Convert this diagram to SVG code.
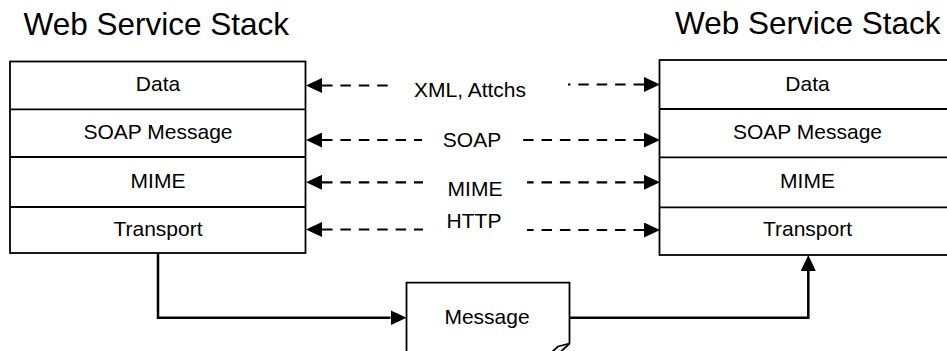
<svg xmlns="http://www.w3.org/2000/svg" width="947" height="351" viewBox="0 0 947 351">
  <style>
    .box { fill: #ffffff; stroke: #000000; stroke-width: 1.8; }
    .sep { stroke: #000000; stroke-width: 1.8; }
    .title { font-family: "Liberation Sans", Arial, sans-serif; font-size: 31.5px; fill: #000000; }
    .lbl { font-family: "Liberation Sans", Arial, sans-serif; font-size: 21px; fill: #000000; text-anchor: middle; }
    .dash { fill: none; stroke: #000000; stroke-width: 2.2; stroke-dasharray: 10.5 7.9; marker-start: url(#head); }
    .flow { fill: none; stroke: #000000; stroke-width: 2.5; marker-end: url(#head2); }
  </style>
  <defs>
    <!-- filled arrowhead; base sits on the line end, tip points away -->
    <marker id="head" markerUnits="userSpaceOnUse" viewBox="0 -7.5 16 15" refX="0" refY="0" markerWidth="16" markerHeight="15" orient="auto-start-reverse">
      <path d="M0,-7.5 L16,0 L0,7.5 Z" fill="#000000"/>
    </marker>
    <marker id="head2" markerUnits="userSpaceOnUse" viewBox="0 -7.5 16 15" refX="0" refY="0" markerWidth="16" markerHeight="15" orient="auto">
      <path d="M0,-7.5 L16,0 L0,7.5 Z" fill="#000000"/>
    </marker>
  </defs>

  <!-- left protocol stack -->
  <g id="stack-left">
    <text class="title" x="23.5" y="35">Web Service Stack</text>
    <rect class="box" x="10" y="61.5" width="295.5" height="191.5"/>
    <line class="sep" x1="10" y1="109.3" x2="305.5" y2="109.3"/>
    <line class="sep" x1="10" y1="157" x2="305.5" y2="157"/>
    <line class="sep" x1="10" y1="207" x2="305.5" y2="207"/>
    <text class="lbl" x="158" y="91">Data</text>
    <text class="lbl" x="158" y="138.5">SOAP Message</text>
    <text class="lbl" x="158" y="187.5">MIME</text>
    <text class="lbl" x="158" y="235.5">Transport</text>
  </g>

  <!-- right protocol stack (runs off the right edge) -->
  <g id="stack-right">
    <text class="title" x="675" y="34">Web Service Stack</text>
    <rect class="box" x="659.5" y="60" width="296" height="195"/>
    <line class="sep" x1="659.5" y1="109" x2="955.5" y2="109"/>
    <line class="sep" x1="659.5" y1="157.3" x2="955.5" y2="157.3"/>
    <line class="sep" x1="659.5" y1="207.3" x2="955.5" y2="207.3"/>
    <text class="lbl" x="807.5" y="90.5">Data</text>
    <text class="lbl" x="807.5" y="138.5">SOAP Message</text>
    <text class="lbl" x="807.5" y="187.5">MIME</text>
    <text class="lbl" x="807.5" y="235.5">Transport</text>
  </g>

  <!-- message document with folded corner -->
  <g id="message">
    <path class="box" d="M406.5,282.7 L569.5,282.7 L569.5,343.5 L552,360 L406.5,360 Z"/>
    <path d="M569.5,343.5 L558,346.5 L552,352" fill="#ffffff" stroke="#000000" stroke-width="1.8" stroke-linejoin="miter"/>
    <text class="lbl" x="487" y="323.5">Message</text>
  </g>

  <!-- peer-to-peer layer connectors and the transport path -->
  <g id="connectors">
    <line class="dash" x1="322" y1="85.5" x2="394" y2="85.5"/>
    <line class="dash" x1="644" y1="84.5" x2="568" y2="84.5"/>
    <line class="dash" x1="322" y1="140" x2="422" y2="140"/>
    <line class="dash" x1="644" y1="140" x2="523" y2="140"/>
    <line class="dash" x1="322" y1="182.3" x2="423" y2="182.3"/>
    <line class="dash" x1="644" y1="182.3" x2="527" y2="182.3"/>
    <line class="dash" x1="322" y1="229.5" x2="423" y2="229.5"/>
    <line class="dash" x1="644" y1="230" x2="527" y2="230"/>

    <polyline class="flow" points="158,253 158,317.7 390.5,317.7"/>
    <polyline class="flow" points="569.5,317.7 808.3,317.7 808.3,271"/>
  </g>

  <!-- layer labels on the connectors -->
  <g id="connector-labels">
    <text class="lbl" x="470" y="97">XML, Attchs</text>
    <text class="lbl" x="472" y="147">SOAP</text>
    <text class="lbl" x="475" y="196">MIME</text>
    <text class="lbl" x="474" y="228">HTTP</text>
  </g>
</svg>
